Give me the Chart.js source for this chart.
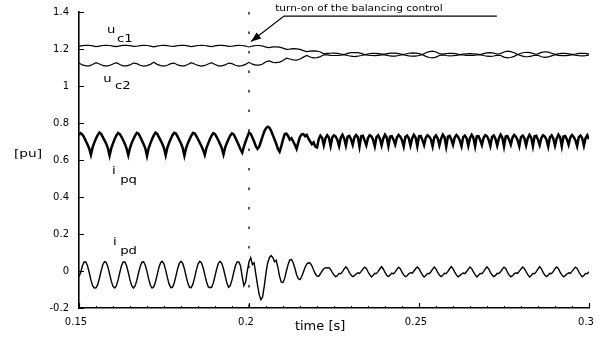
<!DOCTYPE html>
<html lang="en">
<head>
<meta charset="UTF-8">
<title>DC-link voltages and inverter currents</title>
<script src="https://cdn.jsdelivr.net/npm/chart.js@4.4.1/dist/chart.umd.min.js"></script>
<style>
    html, body { margin: 0; padding: 0; background: #fff; }
    #wrap { width: 600px; height: 337px; position: relative; }
</style>
</head>
<body>
<div id="wrap"><canvas id="chart"></canvas></div>

<script>
    // sampling grid of the recorded traces [s]
    const T_START = 0.15;
    const STEP_U = 0.001;    // capacitor voltages
    const STEP_I = 0.0005;   // currents

    // capacitor voltage u_c1 [pu]
    const uc1 = [
        1.214, 1.218, 1.220, 1.220, 1.217, 1.213, 1.216, 1.219, 1.220, 1.219,
        1.216, 1.213, 1.217, 1.220, 1.220, 1.218, 1.214, 1.215, 1.218, 1.220,
        1.219, 1.216, 1.212, 1.216, 1.219, 1.220, 1.218, 1.215, 1.214, 1.218,
        1.220, 1.220, 1.217, 1.213, 1.216, 1.219, 1.220, 1.219, 1.216, 1.213,
        1.217, 1.220, 1.220, 1.218, 1.214, 1.215, 1.218, 1.220, 1.219, 1.216,
        1.211, 1.216, 1.219, 1.219, 1.216, 1.210, 1.207, 1.211, 1.212, 1.210,
        1.205, 1.198, 1.199, 1.202, 1.201, 1.198, 1.191, 1.186, 1.189, 1.190,
        1.189, 1.184, 1.174, 1.176, 1.177, 1.178, 1.176, 1.173, 1.170, 1.176,
        1.180, 1.181, 1.180, 1.176, 1.170, 1.173, 1.176, 1.176, 1.175, 1.172,
        1.172, 1.176, 1.178, 1.178, 1.175, 1.171, 1.173, 1.177, 1.179, 1.178,
        1.175, 1.170, 1.180, 1.186, 1.188, 1.184, 1.175, 1.172, 1.175, 1.177,
        1.176, 1.174, 1.170, 1.173, 1.174, 1.175, 1.174, 1.173, 1.170, 1.175,
        1.179, 1.180, 1.178, 1.173, 1.175, 1.184, 1.188, 1.186, 1.180, 1.170,
        1.177, 1.181, 1.182, 1.179, 1.173, 1.174, 1.182, 1.185, 1.183, 1.177,
        1.171, 1.174, 1.176, 1.176, 1.174, 1.171, 1.173, 1.176, 1.177, 1.176,
        1.172
    ];

    // capacitor voltage u_c2 [pu]
    const uc2 = [
        1.124, 1.114, 1.109, 1.109, 1.116, 1.126, 1.119, 1.111, 1.108, 1.111,
        1.119, 1.126, 1.116, 1.109, 1.109, 1.114, 1.124, 1.121, 1.112, 1.108,
        1.110, 1.117, 1.128, 1.117, 1.110, 1.108, 1.112, 1.121, 1.124, 1.114,
        1.109, 1.109, 1.116, 1.126, 1.119, 1.111, 1.108, 1.111, 1.119, 1.126,
        1.116, 1.109, 1.109, 1.114, 1.124, 1.121, 1.112, 1.108, 1.110, 1.117,
        1.128, 1.118, 1.113, 1.113, 1.119, 1.131, 1.136, 1.128, 1.126, 1.129,
        1.138, 1.150, 1.146, 1.141, 1.140, 1.146, 1.156, 1.165, 1.157, 1.152,
        1.153, 1.159, 1.169, 1.168, 1.166, 1.165, 1.165, 1.167, 1.170, 1.165,
        1.161, 1.159, 1.161, 1.165, 1.170, 1.167, 1.165, 1.164, 1.166, 1.168,
        1.168, 1.164, 1.162, 1.162, 1.165, 1.169, 1.167, 1.163, 1.161, 1.162,
        1.165, 1.170, 1.160, 1.154, 1.152, 1.156, 1.165, 1.168, 1.165, 1.163,
        1.164, 1.166, 1.170, 1.168, 1.166, 1.165, 1.166, 1.168, 1.170, 1.165,
        1.161, 1.160, 1.162, 1.167, 1.165, 1.156, 1.152, 1.154, 1.160, 1.170,
        1.164, 1.159, 1.158, 1.161, 1.167, 1.166, 1.158, 1.155, 1.157, 1.163,
        1.169, 1.166, 1.164, 1.164, 1.166, 1.169, 1.167, 1.164, 1.163, 1.164,
        1.168
    ];

    // quadrature current i_pq [pu]
    const ipq = [
        0.735, 0.745, 0.738, 0.722, 0.703, 0.684, 0.662, 0.628, 0.668, 0.694,
        0.716, 0.735, 0.748, 0.741, 0.724, 0.706, 0.688, 0.664, 0.624, 0.664,
        0.690, 0.714, 0.733, 0.746, 0.740, 0.725, 0.707, 0.687, 0.662, 0.626,
        0.666, 0.692, 0.712, 0.732, 0.747, 0.742, 0.726, 0.705, 0.686, 0.663,
        0.622, 0.665, 0.690, 0.713, 0.733, 0.748, 0.741, 0.724, 0.706, 0.688,
        0.664, 0.625, 0.667, 0.693, 0.715, 0.734, 0.747, 0.743, 0.727, 0.708,
        0.689, 0.665, 0.623, 0.664, 0.690, 0.711, 0.731, 0.746, 0.744, 0.730,
        0.712, 0.694, 0.676, 0.655, 0.627, 0.666, 0.690, 0.712, 0.732, 0.745,
        0.740, 0.724, 0.705, 0.686, 0.664, 0.630, 0.668, 0.692, 0.714, 0.733,
        0.744, 0.738, 0.720, 0.700, 0.680, 0.658, 0.640, 0.672, 0.700, 0.725,
        0.748, 0.742, 0.722, 0.700, 0.675, 0.660, 0.672, 0.700, 0.728, 0.755,
        0.772, 0.780, 0.775, 0.758, 0.735, 0.712, 0.688, 0.660, 0.645, 0.675,
        0.710, 0.740, 0.742, 0.730, 0.710, 0.718, 0.700, 0.682, 0.660, 0.695,
        0.725, 0.738, 0.740, 0.728, 0.735, 0.715, 0.700, 0.685, 0.695, 0.672,
        0.668, 0.712, 0.732, 0.720, 0.680, 0.718, 0.734, 0.722, 0.676, 0.722,
        0.733, 0.727, 0.708, 0.675, 0.720, 0.736, 0.716, 0.678, 0.726, 0.730,
        0.712, 0.682, 0.721, 0.735, 0.724, 0.672, 0.728, 0.731, 0.706, 0.680,
        0.719, 0.734, 0.728, 0.710, 0.674, 0.724, 0.733, 0.715, 0.679, 0.717,
        0.737, 0.722, 0.676, 0.727, 0.729, 0.710, 0.683, 0.721, 0.735, 0.726,
        0.707, 0.673, 0.725, 0.732, 0.717, 0.678, 0.718, 0.736, 0.721, 0.675,
        0.728, 0.730, 0.709, 0.681, 0.720, 0.734, 0.727, 0.711, 0.674, 0.723,
        0.733, 0.716, 0.679, 0.716, 0.737, 0.723, 0.672, 0.727, 0.731, 0.711,
        0.682, 0.722, 0.735, 0.725, 0.706, 0.675, 0.724, 0.732, 0.718, 0.677,
        0.719, 0.736, 0.720, 0.674, 0.728, 0.729, 0.708, 0.681, 0.720, 0.734,
        0.728, 0.709, 0.676, 0.725, 0.733, 0.714, 0.678, 0.717, 0.737, 0.722,
        0.673, 0.727, 0.730, 0.710, 0.683, 0.721, 0.735, 0.726, 0.707, 0.674,
        0.724, 0.732, 0.717, 0.679, 0.718, 0.736, 0.721, 0.675, 0.728, 0.731,
        0.709, 0.681, 0.720, 0.734, 0.727, 0.710, 0.673, 0.723, 0.733, 0.716,
        0.678, 0.716, 0.737, 0.723, 0.674, 0.727, 0.730, 0.711, 0.682, 0.722,
        0.735, 0.725, 0.707, 0.675, 0.724, 0.732, 0.718, 0.677, 0.719, 0.734,
        0.712
    ];

    // direct current i_pd [pu]
    const ipd = [
        -0.030, -0.008, 0.028, 0.049, 0.049, 0.028, -0.008, -0.048, -0.079, -0.092,
        -0.091, -0.074, -0.039, 0.000, 0.034, 0.051, 0.047, 0.022, -0.016, -0.055,
        -0.083, -0.092, -0.079, -0.048, -0.008, 0.028, 0.049, 0.049, 0.028, -0.008,
        -0.048, -0.079, -0.092, -0.081, -0.051, -0.011, 0.025, 0.048, 0.050, 0.031,
        -0.003, -0.044, -0.077, -0.092, -0.085, -0.058, -0.020, 0.019, 0.045, 0.052,
        0.037, 0.005, -0.036, -0.071, -0.090, -0.088, -0.065, -0.028, 0.012, 0.041,
        0.052, 0.041, 0.012, -0.028, -0.065, -0.088, -0.090, -0.071, -0.036, 0.005,
        0.037, 0.052, 0.045, 0.019, -0.020, -0.058, -0.085, -0.090, -0.088, -0.065,
        -0.028, 0.012, 0.041, 0.052, 0.041, 0.012, -0.028, -0.065, -0.088, -0.079,
        -0.048, -0.008, 0.028, 0.049, 0.049, 0.028, -0.030, -0.080, -0.060, 0.000,
        0.050, 0.072, 0.035, 0.045, -0.015, -0.075, -0.128, -0.155, -0.140, -0.080,
        -0.010, 0.045, 0.072, 0.083, 0.074, 0.050, 0.058, 0.020, -0.030, -0.060,
        -0.062, -0.040, 0.000, 0.035, 0.060, 0.062, 0.045, 0.015, -0.020, -0.042,
        -0.046, -0.030, -0.005, 0.020, 0.038, 0.044, 0.042, 0.028, 0.005, -0.015,
        -0.027, -0.028, -0.015, 0.000, 0.012, 0.018, 0.016, 0.018, 0.008, -0.008,
        -0.022, -0.031, -0.024, -0.013, -0.015, -0.003, 0.011, 0.022, 0.012, -0.007,
        -0.022, -0.030, -0.025, -0.016, -0.010, -0.013, -0.002, 0.010, 0.021, 0.014,
        -0.004, -0.020, -0.032, -0.023, -0.012, -0.014, -0.002, 0.012, 0.023, 0.011,
        -0.008, -0.023, -0.030, -0.022, -0.011, -0.016, -0.005, 0.009, 0.020, 0.013,
        -0.006, -0.021, -0.031, -0.026, -0.015, -0.009, -0.012, 0.000, 0.012, 0.022,
        0.012, -0.005, -0.021, -0.032, -0.024, -0.013, -0.015, -0.004, 0.010, 0.021,
        0.011, -0.008, -0.022, -0.030, -0.023, -0.012, -0.014, -0.002, 0.012, 0.024,
        0.013, -0.006, -0.021, -0.031, -0.025, -0.016, -0.011, -0.014, -0.003, 0.010,
        0.021, 0.013, -0.005, -0.020, -0.032, -0.023, -0.013, -0.015, -0.003, 0.011,
        0.022, 0.012, -0.007, -0.022, -0.030, -0.024, -0.012, -0.014, -0.004, 0.010,
        0.021, 0.014, -0.006, -0.021, -0.031, -0.025, -0.015, -0.010, -0.013, -0.001,
        0.011, 0.022, 0.013, -0.004, -0.020, -0.032, -0.024, -0.013, -0.015, -0.003,
        0.011, 0.023, 0.012, -0.007, -0.022, -0.030, -0.023, -0.012, -0.014, -0.002,
        0.012, 0.022, 0.013, -0.006, -0.021, -0.031, -0.025, -0.016, -0.010, -0.013,
        -0.002, 0.010, 0.021, 0.014, -0.004, -0.020, -0.031, -0.024, -0.013, -0.015,
        -0.004
    ];

    const TURN_ON_TIME = 0.2;   // balancing control switched on

    const X_TICKS = [0.15, 0.2, 0.25, 0.3];
    const X_TICK_LABELS = ['0.15', '0.2', '0.25', '0.3'];
    const X_MINOR_STEP = 0.005;
    const Y_TICKS = [-0.2, 0, 0.2, 0.4, 0.6, 0.8, 1, 1.2, 1.4];
    const Y_TICK_LABELS = ['-0.2', '0', '0.2', '0.4', '0.6', '0.8', '1', '1.2', '1.4'];

    const FONT = '"DejaVu Sans", sans-serif';
    const INK = '#000';

    function toPoints(values, step) {
        return values.map((v, i) => ({ x: T_START + i * step, y: v }));
    }

    function trace(values, step, width) {
        return {
            data: toPoints(values, step),
            borderColor: INK,
            borderWidth: width,
            pointRadius: 0,
            tension: 0,
            fill: false
        };
    }

    // text widened horizontally like the old plot fonts
    function wideText(ctx, str, px, py, size, stretch) {
        ctx.save();
        ctx.translate(px, py);
        ctx.scale(stretch, 1);
        ctx.font = size + 'px ' + FONT;
        ctx.textBaseline = 'alphabetic';
        ctx.textAlign = 'left';
        ctx.fillText(str, 0, 0);
        ctx.restore();
    }

    // trace names: main letter and lowered index, placed in data units
    const traceLabels = [
        { main: 'u', sub: 'c1', t: 0.1582, v: 1.289, ts: 0.1612, vs: 1.240 },
        { main: 'u', sub: 'c2', t: 0.1571, v: 1.024, ts: 0.1606, vs: 0.986 },
        { main: 'i', sub: 'pq', t: 0.1597, v: 0.526, ts: 0.1621, vs: 0.478 },
        { main: 'i', sub: 'pd', t: 0.1600, v: 0.142, ts: 0.1621, vs: 0.094 }
    ];

    const decorations = {
        id: 'decorations',
        afterDatasetsDraw(chart) {
            const { ctx, chartArea: area, scales: { x, y } } = chart;
            ctx.save();
            ctx.strokeStyle = INK;
            ctx.fillStyle = INK;

            // ticks point into the plot
            ctx.lineWidth = 1.2;
            ctx.beginPath();
            Y_TICKS.forEach(v => {
                const py = Math.round(y.getPixelForValue(v)) + 0.5;
                ctx.moveTo(area.left, py);
                ctx.lineTo(area.left + 5, py);
            });
            X_TICKS.forEach(v => {
                const px = Math.round(x.getPixelForValue(v)) + 0.5;
                ctx.moveTo(px, area.bottom);
                ctx.lineTo(px, area.bottom - 5);
            });
            ctx.stroke();

            ctx.lineWidth = 1;
            ctx.beginPath();
            for (let t = x.min + X_MINOR_STEP; t < x.max - 1e-9; t += X_MINOR_STEP) {
                if (X_TICKS.some(m => Math.abs(m - t) < 1e-6)) continue;
                const px = Math.round(x.getPixelForValue(t)) + 0.5;
                ctx.moveTo(px, area.bottom);
                ctx.lineTo(px, area.bottom - 2);
            }
            ctx.stroke();

            // axis titles
            wideText(ctx, '[pu]', 14, 157, 11, 1.25);
            wideText(ctx, 'time [s]', x.getPixelForValue(0.2135), area.bottom + 22, 13, 1.0);

            // trace names
            traceLabels.forEach(l => {
                wideText(ctx, l.main, x.getPixelForValue(l.t), y.getPixelForValue(l.v), 11, 1.2);
                wideText(ctx, l.sub, x.getPixelForValue(l.ts), y.getPixelForValue(l.vs), 11, 1.2);
            });

            // note on the switching instant, underline and arrow
            const lineStartX = x.getPixelForValue(0.2103);
            const lineEndX = x.getPixelForValue(0.2729);
            const lineY = y.getPixelForValue(1.378);
            const tipX = x.getPixelForValue(0.2006);
            const tipY = y.getPixelForValue(1.2404);
            wideText(ctx, 'turn-on of the balancing control', x.getPixelForValue(0.2077), area.top - 1, 9.5, 1.11);

            ctx.lineWidth = 1.2;
            ctx.beginPath();
            ctx.moveTo(lineEndX, lineY);
            ctx.lineTo(lineStartX, lineY);
            ctx.lineTo(tipX, tipY);
            ctx.stroke();

            const ang = Math.atan2(tipY - lineY, tipX - lineStartX);
            const len = 10, half = 3.8;
            const bx = tipX - len * Math.cos(ang), by = tipY - len * Math.sin(ang);
            ctx.beginPath();
            ctx.moveTo(tipX, tipY);
            ctx.lineTo(bx + half * Math.sin(ang), by - half * Math.cos(ang));
            ctx.lineTo(bx - half * Math.sin(ang), by + half * Math.cos(ang));
            ctx.closePath();
            ctx.fill();

            ctx.restore();
        }
    };

    // fixed axis sizes; drop the extra room Chart.js keeps for edge labels
    function fitY(s) {
        s.width = 79;
        s.paddingTop = 0;
        s.paddingBottom = 0;
    }

    function fitX(s) {
        s.height = 29;
        s.paddingLeft = 0;
        s.paddingRight = 0;
    }

    Chart.defaults.font.family = FONT;
    Chart.defaults.color = INK;

    new Chart(document.getElementById('chart'), {
        type: 'line',
        data: {
            datasets: [
                trace(uc1, STEP_U, 1.2),
                trace(uc2, STEP_U, 1.2),
                trace(ipq, STEP_I, 2.5),
                trace(ipd, STEP_I, 1.4),
                {
                    // instant the balancing control is enabled
                    data: [{ x: TURN_ON_TIME, y: 1.4 }, { x: TURN_ON_TIME, y: -0.2 }],
                    borderColor: INK,
                    borderWidth: 1.3,
                    borderDash: [2.5, 17],
                    pointRadius: 0
                }
            ]
        },
        options: {
            responsive: true,
            maintainAspectRatio: false,
            animation: false,
            events: [],
            layout: { padding: { top: 12, right: 11, left: 0, bottom: 0 } },
            plugins: {
                legend: { display: false },
                tooltip: { enabled: false }
            },
            scales: {
                x: {
                    type: 'linear',
                    min: 0.15,
                    max: 0.3,
                    afterBuildTicks: s => { s.ticks = X_TICKS.map(v => ({ value: v })); },
                    afterFit: fitX,
                    grid: { display: false, drawTicks: false },
                    border: { display: true, color: INK, width: 1.5 },
                    ticks: {
                        callback: (v, i) => X_TICK_LABELS[i],
                        autoSkip: false,
                        maxRotation: 0,
                        padding: 8,
                        labelOffset: -3,
                        color: INK,
                        font: { size: 10 }
                    }
                },
                y: {
                    min: -0.2,
                    max: 1.4,
                    afterBuildTicks: s => { s.ticks = Y_TICKS.map(v => ({ value: v })); },
                    afterFit: fitY,
                    grid: { display: false, drawTicks: false },
                    border: { display: true, color: INK, width: 1.6 },
                    ticks: {
                        callback: (v, i) => Y_TICK_LABELS[i],
                        autoSkip: false,
                        padding: 10,
                        color: INK,
                        font: { size: 10 }
                    }
                }
            }
        },
        plugins: [decorations]
    });
</script>
</body>
</html>
